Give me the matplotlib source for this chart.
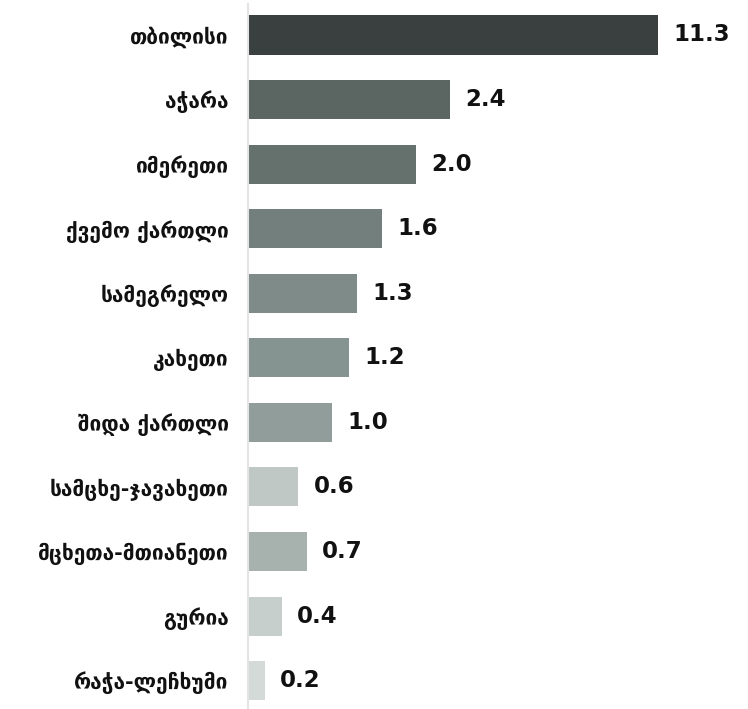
import matplotlib
matplotlib.use("Agg")
import matplotlib.pyplot as plt

# regions and values
regions = ["თბილისი", "აჭარა", "იმერეთი", "ქვემო ქართლი", "სამეგრელო", "კახეთი",
           "შიდა ქართლი", "სამცხე-ჯავახეთი", "მცხეთა-მთიანეთი", "გურია", "რაჭა-ლეჩხუმი"]
values = [11.3, 2.4, 2.0, 1.6, 1.3, 1.2, 1.0, 0.6, 0.7, 0.4, 0.2]
bar_colors = ["#3a3f3f", "#5b6662", "#65716d", "#727f7c", "#7f8b88", "#869491",
              "#919d9a", "#c0c8c6", "#a7b1ae", "#c6cfcc", "#d3dad8"]

# the longest bar is cut at the edge of the plot area
x_cap = 4.88

fig = plt.figure(figsize=(7.48, 7.09), dpi=100)
ax = fig.add_axes([248 / 748, 0.0, 410 / 748, 1 - 4 / 709])

pos = list(range(len(regions)))
ax.barh(pos, values, height=0.605, color=bar_colors, left=0.0)

ax.set_xlim(0, x_cap)
ax.set_ylim(10.44, -0.48)

for i, v in enumerate(values):
    ax.annotate(f"{v:.1f}", xy=(min(v, x_cap), i), xytext=(11, 0), textcoords="offset points",
                va="center", ha="left", fontsize=16.5, fontweight="bold", color="#111111",
                annotation_clip=False)

ax.set_yticks(pos)
ax.set_yticklabels(regions, fontsize=15, fontweight="bold", color="#111111",
                   family=["DejaVu Sans"])
ax.tick_params(axis="y", length=0, pad=14)
ax.set_xticks([])

for side in ["top", "right", "bottom"]:
    ax.spines[side].set_visible(False)
ax.spines["left"].set_color("#e3e3e3")
ax.spines["left"].set_linewidth(1.5)

fig.savefig("out.png", dpi=100)
